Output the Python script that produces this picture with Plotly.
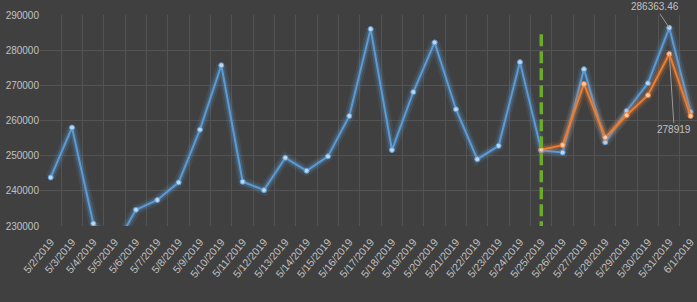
import plotly.graph_objects as go

dates = ["5/2/2019", "5/3/2019", "5/4/2019", "5/5/2019", "5/6/2019", "5/7/2019", "5/8/2019",
         "5/9/2019", "5/10/2019", "5/11/2019", "5/12/2019", "5/13/2019", "5/14/2019", "5/15/2019",
         "5/16/2019", "5/17/2019", "5/18/2019", "5/19/2019", "5/20/2019", "5/21/2019", "5/22/2019",
         "5/23/2019", "5/24/2019", "5/25/2019", "5/26/2019", "5/27/2019", "5/28/2019", "5/29/2019",
         "5/30/2019", "5/31/2019", "6/1/2019"]

actual = [243800, 258000, 230700, 224000, 234600, 237400, 242400, 257400, 275700, 242600,
          240200, 249400, 245700, 249800, 261300, 286000, 251600, 268100, 282200, 263200,
          249000, 252800, 276600, 251500, 250900, 274600, 253800, 262700, 270600, 286363.46,
          262400]

forecast_dates = dates[23:]
forecast = [251700, 253000, 270400, 255200, 261500, 267200, 278919, 261300]

split_date = "5/25/2019"
y_ticks = [230000, 240000, 250000, 260000, 270000, 280000, 290000]
y_tick_text = ["230000", "240000", "250000", "260000", "270000", "280000", "290000"]

BLUE = "#5b9bd5"
ORANGE = "#ed7d31"
BG = "#404040"
GRID = "#535353"
TXT = "#c0c0c0"
FONT = "Liberation Sans Narrow, Liberation Sans, Arial, sans-serif"

fig = go.Figure()

def add_series(x, y, color, marker_fill):
    # glow layers
    fig.add_trace(go.Scatter(x=x, y=y, mode="lines", line=dict(color=color, width=10),
                             opacity=0.12, hoverinfo="skip", showlegend=False))
    fig.add_trace(go.Scatter(x=x, y=y, mode="lines", line=dict(color=color, width=5.5),
                             opacity=0.25, hoverinfo="skip", showlegend=False))
    fig.add_trace(go.Scatter(x=x, y=y, mode="lines+markers",
                             line=dict(color=color, width=2),
                             marker=dict(size=5, color=marker_fill, line=dict(color=color, width=1)),
                             showlegend=False))

add_series(dates, actual, BLUE, "#bdd7ee")
add_series(forecast_dates, forecast, ORANGE, "#f8cbad")

# vertical green dashed separator
fig.add_trace(go.Scatter(x=[split_date, split_date], y=[284500, 229300], mode="lines",
                         line=dict(color="#6aab2b", width=3.5, dash="12px,5px"),
                         hoverinfo="skip", showlegend=False))

fig.add_annotation(x=dates[29], y=actual[29], text="286363.46", showarrow=True,
                   arrowhead=0, arrowwidth=1, arrowcolor="#9a9a9a", ax=-14, ay=-21,
                   font=dict(family=FONT, size=10, color=TXT))
fig.add_annotation(x=forecast_dates[6], y=forecast[6], text="278919", showarrow=True,
                   arrowhead=0, arrowwidth=1, arrowcolor="#9a9a9a", ax=5, ay=76,
                   font=dict(family=FONT, size=10, color=TXT))

fig.update_layout(
    width=697, height=302,
    margin=dict(l=40, r=0, t=15, b=76, autoexpand=False),
    paper_bgcolor=BG, plot_bgcolor=BG,
    font=dict(family=FONT, size=10, color=TXT),
    xaxis=dict(type="category", categoryorder="array", categoryarray=dates,
               range=[-0.5, 30.3], tickson="boundaries", showgrid=True, gridcolor=GRID,
               gridwidth=1, tickangle=-50, ticks="", showline=False, zeroline=False,
               automargin=False, ticklabelstandoff=7,
               tickfont=dict(family=FONT, size=10.5, color=TXT)),
    yaxis=dict(range=[230000, 290000], tickvals=y_ticks, ticktext=y_tick_text,
               showgrid=True, gridcolor=GRID, automargin=False,
               gridwidth=1, zeroline=False, showline=False, ticks="",
               tickfont=dict(family=FONT, size=10, color=TXT)),
)

fig.write_html("out.html", config={"displayModeBar": False},
               post_script="document.body.style.margin='0';document.body.style.background='#404040';")
